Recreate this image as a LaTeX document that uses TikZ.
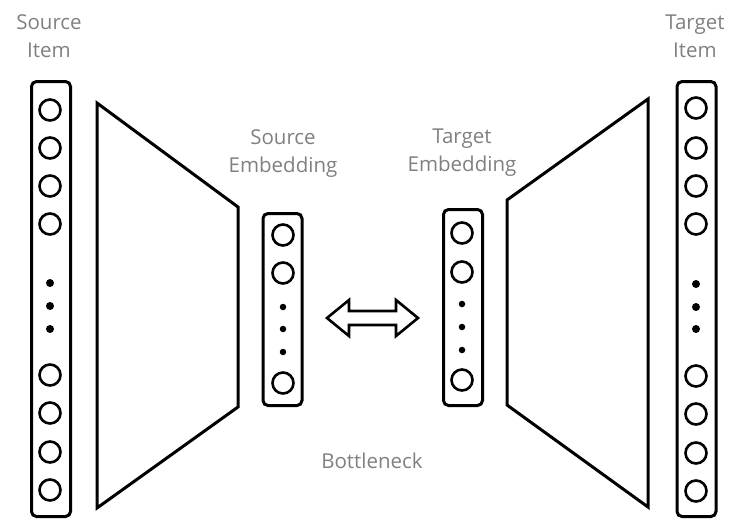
\documentclass[tikz,border=0pt]{standalone}
\usepackage{fontspec}
\setmainfont{Open Sans}
\begin{document}
\begin{tikzpicture}[x=1pt,y=-1pt,
  lbl/.style={text=black!50, font=\fontsize{20.5}{28}\selectfont, align=center, inner sep=0pt},
  col/.style={draw, line width=3pt, rounded corners=5pt, minimum width=39pt, inner sep=0pt},
  unit/.style={circle, draw, line width=2.6pt, minimum size=21pt, inner sep=0pt},
  dotn/.style={circle, fill, minimum size=8pt, inner sep=0pt},
  trap/.style={draw, line width=3pt, line join=miter}
]
\useasboundingbox (0,0) rectangle (729,523);
% columns
\node[col, minimum height=435pt] (srccol) at (51,299) {};
\node[col, minimum height=435pt] (tgtcol) at (696.5,299) {};
\node[col, minimum height=192pt] (srcemb) at (282.5,309.5) {};
\node[col, minimum height=196pt] (tgtemb) at (463,307.5) {};
% source item units
\foreach \y [count=\i] in {110,148,186,224,375,413,452,490} \node[unit] (s\i) at (50,\y) {};
\foreach \y [count=\i] in {283,306,329} \node[dotn] (sd\i) at (50,\y) {};
\foreach \y [count=\i] in {108,148,186,224,376,414,453,491} \node[unit] (t\i) at (696,\y) {};
\foreach \y [count=\i] in {284,307,329} \node[dotn] (td\i) at (696,\y) {};
% embeddings
\node[unit] (se1) at (283,235) {};
\node[unit] (se2) at (283,273) {};
\foreach \y [count=\i] in {307,329,352} \node[dotn, minimum size=6.5pt] (sed\i) at (283,\y) {};
\node[unit] (se3) at (283,383) {};
\node[unit] (te1) at (462,233) {};
\node[unit] (te2) at (462,272) {};
\foreach \y [count=\i] in {304,327,350} \node[dotn, minimum size=6.5pt] (ted\i) at (462,\y) {};
\node[unit] (te3) at (462,380) {};
% trapezoids
\draw[trap] (97,103) -- (238,207) -- (238,407) -- (97,508) -- cycle;
\draw[trap] (648,99) -- (507,200) -- (507,405) -- (648,507) -- cycle;
% double arrow
\coordinate (al) at (327,318);
\coordinate (ar) at (418,318);
\draw[line width=2.6pt, line join=miter] (al) -- ++(22,-18) -- ++(0,11) -- ++(47,0) -- ++(0,-11) -- (ar) -- ++(-22,18) -- ++(0,-11) -- ++(-47,0) -- ++(0,11) -- cycle;
% labels
\node[lbl] (lsrc) at (49,36) {Source\\Item};
\node[lbl] (ltgt) at (695,36) {Target\\Item};
\node[lbl] (lse) at (283,154) {Source\\Embedding};
\node[lbl] (lte) at (462,153) {Target\\Embedding};
\node[lbl] (lb) at (372,461) {Bottleneck};
\end{tikzpicture}
\end{document}
